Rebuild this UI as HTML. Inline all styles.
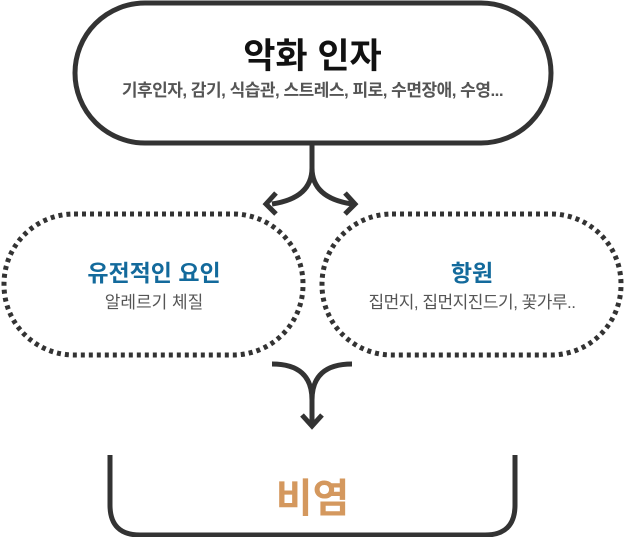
<!DOCTYPE html>
<html><head><meta charset="utf-8"><style>
html,body{margin:0;padding:0;background:#fff}
body{width:625px;height:537px;position:relative;overflow:hidden;font-family:"Liberation Sans","Noto Sans CJK KR",sans-serif}
.t{position:absolute;text-align:center;white-space:nowrap}
</style></head><body>
<svg width="625" height="537" style="position:absolute;left:0;top:0">
<g fill="none" stroke="#333" stroke-width="5">
<rect x="75" y="3" width="476" height="140" rx="70"/>
<path d="M312 145 V168 Q312 198 272 204"/>
<path d="M312 168 Q312 198 352 204"/>
<path d="M276 193 L266 204 L276 214" stroke-width="5"/>
<path d="M345 193 L355 204 L345 214" stroke-width="5"/>
<rect x="4" y="214" width="299" height="141" rx="70" stroke-dasharray="4 4"/>
<rect x="322" y="214" width="299" height="141" rx="70" stroke-dasharray="4 4"/>
<path d="M272 364 Q312 364 312 400 V425"/>
<path d="M352 364 Q312 364 312 400"/>
<path d="M302 415 L312 426 L322 415"/>
<path d="M110 455 V505 Q110 535 140 535 H485 Q515 535 515 505 V455"/>
</g>
</svg>
<div class="t" style="left:0;width:625px;top:28px;font-size:35px;font-weight:bold;color:#111">악화 인자</div>
<div class="t" style="left:0;width:625px;top:76px;font-size:17px;font-weight:bold;color:#555;letter-spacing:-0.5px">기후인자, 감기, 식습관, 스트레스, 피로, 수면장애, 수영...</div>
<div class="t" style="left:4px;width:300px;top:254px;font-size:23px;font-weight:bold;color:#136a9c">유전적인 요인</div>
<div class="t" style="left:4px;width:300px;top:288px;font-size:17px;color:#555">알레르기 체질</div>
<div class="t" style="left:322px;width:300px;top:254px;font-size:23px;font-weight:bold;color:#136a9c">항원</div>
<div class="t" style="left:322px;width:300px;top:288px;font-size:17px;color:#555;letter-spacing:-0.5px">집먼지, 집먼지진드기, 꽃가루..</div>
<div class="t" style="left:0;width:625px;top:466px;font-size:40px;font-weight:bold;color:#d4985e">비염</div>
</body></html>
